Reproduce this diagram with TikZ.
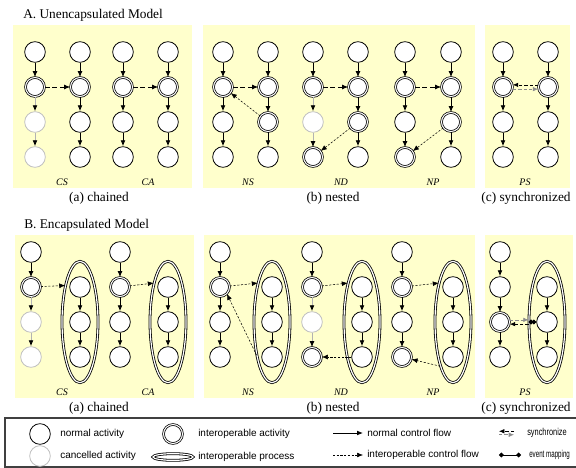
\documentclass[tikz,border=0pt]{standalone}
\usepackage{fontspec}
\setmainfont{Liberation Serif}
\setsansfont{Liberation Sans}
\usepackage{tikz}
\usetikzlibrary{arrows.meta,shapes.geometric}
\definecolor{panel}{RGB}{255,255,204}
\tikzstyle{normal node}    = [circle,draw,line width=.6pt,fill=white,inner sep=0,minimum size=15.5pt]
\tikzstyle{cancelled node} = [normal node,draw=black!25]
\tikzstyle{interop node}   = [circle,draw,line width=.55pt,double,double distance=.8pt,fill=white,inner sep=0,minimum size=14.2pt]
\tikzstyle{process node}   = [ellipse,draw,line width=.6pt,double,double distance=.9pt,inner sep=0,minimum width=27pt,minimum height=91pt]

\begin{document}
\begin{tikzpicture}[x=.75pt,y=-.75pt,
                    flow/.style={line width=.6pt,-{Latex[length=4.5pt,width=3.6pt]}},
                    tint normal/.style={},
                    tint interop/.style={},
                    tint cancelled/.style={draw=black!30,-{Latex[length=4.5pt,width=3.6pt,color=black]}},
                    interop flow/.style={line width=.5pt,dash pattern=on 3.5pt off 2.2pt,-{Latex[length=4.5pt,width=3.6pt]}},
                    fine flow/.style={line width=.4pt,dash pattern=on 1.6pt off 1.2pt,-{Latex[length=4.5pt,width=3.6pt]}},
                    sync/.style={line width=.5pt,dash pattern=on 2.5pt off 1.5pt,-{Latex[length=4pt,width=3.4pt]}},
                    mapping/.style={line width=.7pt,{Circle[length=3.6pt]}-{Circle[length=3.6pt]}},
                    title text/.style={anchor=west,inner sep=0,font=\fontsize{10}{12}\selectfont},
                    caption text/.style={inner sep=0,font=\fontsize{10}{12}\selectfont},
                    model text/.style={inner sep=0,font=\fontsize{7.5}{9}\selectfont\itshape},
                    legend text/.style={anchor=west,inner sep=0,font=\sffamily\fontsize{7.5}{9}\selectfont}
                    ]
    \useasboundingbox (0,0) rectangle (576,468);

    \fill[panel] (13,25) rectangle (192,188);
    \fill[panel] (203,25) rectangle (475,188);
    \fill[panel] (485,25) rectangle (570,188);
    \fill[panel] (15,235) rectangle (194,398);
    \fill[panel] (204,235) rectangle (475,398);
    \fill[panel] (485,235) rectangle (573,398);

    \node[title text] (titleA) at (23,15) {A. Unencapsulated Model};
    \node[title text] (titleB) at (24,225) {B. Encapsulated Model};

    % activity columns, rows 35px apart
    \foreach \col/\x/\y/\ka/\kb/\kc/\kd in {
        pa1/35/17/normal/interop/cancelled/cancelled, pa2/80/17/normal/interop/normal/normal,
        pa3/123/17/normal/interop/normal/normal,      pa4/168/17/normal/interop/normal/normal,
        pb1/223/17/normal/interop/normal/normal,      pb2/268/17/normal/interop/interop/normal,
        pb3/313/17/normal/interop/cancelled/interop,  pb4/358/17/normal/interop/interop/normal,
        pb5/405/17/normal/interop/normal/interop,     pb6/451/17/normal/interop/interop/normal,
        pc1/503/17/normal/interop/normal/normal,      pc2/548/17/normal/interop/normal/normal,
        qa1/31/217/normal/interop/cancelled/cancelled, qa3/120/217/normal/interop/normal/normal,
        qb1/220/217/normal/interop/normal/normal,     qb3/312/217/normal/interop/cancelled/interop,
        qb5/402/217/normal/interop/normal/interop,    qc1/500/217/normal/normal/interop/normal}{
        \foreach \k [count=\r, remember=\k as \last (initially normal)] in {\ka,\kb,\kc,\kd}{
            \node[\k\space node] (\col-\r) at (\x,\y+35*\r) {};
            \pgfmathtruncatemacro\prev{\r-1}
            \ifnum\r>1 \draw[flow,tint \last,tint \k] (\col-\prev) -- (\col-\r); \fi
        }
    }

    % interoperable processes
    \foreach \col/\x in {qa2/80,qa4/168,qb2/272,qb4/362,qb6/453,qc2/547}{
        \node[process node] (\col) at (\x,322) {};
        \foreach \r in {2,3,4} \node[normal node] (\col-\r) at (\x,217+35*\r) {};
        \draw[flow] (\col-2) -- (\col-3);
        \draw[flow] (\col-3) -- (\col-4);
    }

    \draw[interop flow] (pa1-2) -- (pa2-2);
    \draw[interop flow] (pa3-2) -- (pa4-2);
    \draw[interop flow] (pb1-2) -- (pb2-2);
    \draw[interop flow] (pb3-2) -- (pb4-2);
    \draw[interop flow] (pb5-2) -- (pb6-2);
    \draw[fine flow] (pb2-3) -- (pb1-2);
    \draw[fine flow] (pb4-3) -- (pb3-4);
    \draw[fine flow] (pb6-3) -- (pb5-4);
    \draw[sync] ([yshift=1.6pt]pc2-2.west) -- ([yshift=1.6pt]pc1-2.east);
    \draw[sync,draw=black!45] ([yshift=-1.6pt]pc1-2.east) -- ([yshift=-1.6pt]pc2-2.west);

    \draw[fine flow] (qa1-2) -- (qa2.112);
    \draw[fine flow] (qa3-2) -- (qa4.110);
    \draw[fine flow] (qb1-2) -- (qb2.110);
    \draw[fine flow] (qb3-2) -- (qb4.110);
    \draw[fine flow] (qb5-2) -- (qb6.110);
    \draw[fine flow] (qb2.245) -- (qb1-2.south east);
    \draw[fine flow] (qb4-4) -- (qb3-4);
    \draw[fine flow] (qb6.254) -- (qb5-4);
    \draw[sync,draw=black!45] ([yshift=1.6pt]qc1-3.east) -- ([yshift=1.6pt]qc2.west);
    \draw[sync] ([yshift=-1.6pt]qc2.west) -- ([yshift=-1.6pt]qc1-3.east);
    \draw[mapping] (qc2.west) -- (qc2-3.west);

    \foreach \lab/\x in {CS/62,CA/148,NS/248,ND/341,NP/433,PS/525}{
        \node[model text] (\lab-top) at (\x,182) {\lab};
        \node[model text] (\lab-bot) at (\x,392) {\lab};
    }
    \foreach \cap/\x [count=\i] in {(a) chained/99,(b) nested/333,(c) synchronized/526}{
        \node[caption text] (capA\i) at (\x,198) {\cap};
        \node[caption text] (capB\i) at (\x,408) {\cap};
    }

    % legend
    \draw[line width=.9pt,black!75] (5,418) rectangle (580,467);
    \node[normal node] (keyNormal) at (40,434) {};
    \node[legend text] (keyNormalT) at (60,434) {normal activity};
    \node[cancelled node] (keyCancel) at (40,456) {};
    \node[legend text] (keyCancelT) at (60,456) {cancelled activity};
    \node[interop node] (keyInterop) at (173,434) {};
    \node[legend text] (keyInteropT) at (198,434) {interoperable activity};
    \node[process node,minimum width=30pt,minimum height=5pt] (keyProcess) at (173,457) {};
    \node[legend text] (keyProcessT) at (198,457) {interoperable process};
    \coordinate (keyFlowA) at (333,433);
    \coordinate (keyFlowB) at (363,433);
    \draw[flow] (keyFlowA) -- (keyFlowB);
    \node[legend text] (keyFlowT) at (367,433) {normal control flow};
    \coordinate (keyDashA) at (333,455);
    \coordinate (keyDashB) at (363,455);
    \draw[fine flow] (keyDashA) -- (keyDashB);
    \node[legend text] (keyDashT) at (367,455) {interoperable control flow};
    \coordinate (keySyncA) at (499,433);
    \coordinate (keySyncB) at (514,433);
    \draw[sync] ([yshift=1.3pt]keySyncB) -- ([yshift=1.3pt]keySyncA);
    \draw[sync,draw=black!45] ([yshift=-1.3pt]keySyncA) -- ([yshift=-1.3pt]keySyncB);
    \node[legend text] (keySyncT) at (527,433) {\scalebox{.74}[1]{synchronize}};
    \coordinate (keyMapA) at (499,455);
    \coordinate (keyMapB) at (521,455);
    \draw[mapping] (keyMapA) -- (keyMapB);
    \node[legend text] (keyMapT) at (529,455) {\scalebox{.62}[1]{event mapping}};

\end{tikzpicture}
\end{document}
